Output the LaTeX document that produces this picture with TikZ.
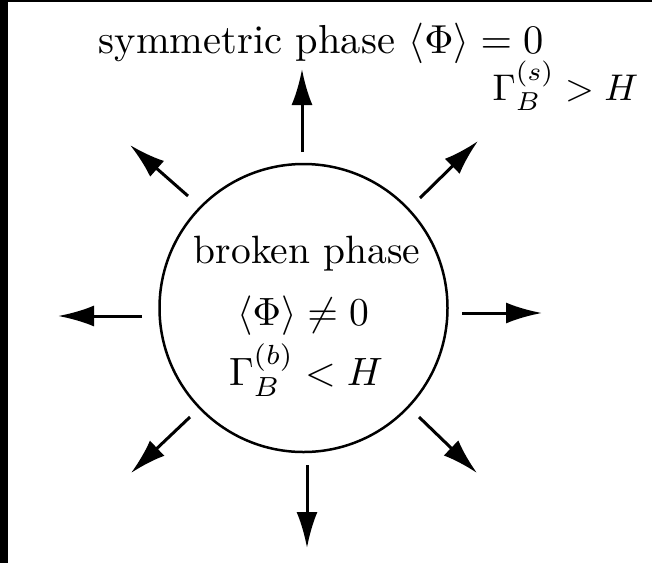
\documentclass[tikz,border=0pt]{standalone}
\usepackage{amsmath}
\usetikzlibrary{arrows.meta}
\begin{document}
\begin{tikzpicture}[x=1pt,y=-1pt,
  arr/.style={line width=3pt,-{Latex[length=36pt,width=21pt]}},
  lbl/.style={inner sep=0pt,scale=3.95}]
\useasboundingbox (0,0) rectangle (652,563);
\fill[white] (0,0) rectangle (652,563);
\fill[black] (0,0) rectangle (8,563);
\fill[black] (0,0) rectangle (652,1.5);
\node[draw, circle, line width=2.5pt, minimum size=288pt, inner sep=0pt] (c) at (303.5,308) {};
\node[lbl, anchor=base] (b1) at (307,263) {broken phase};
\node[lbl, anchor=base] (b2) at (303,325) {$\langle\Phi\rangle \neq 0$};
\node[lbl, anchor=base] (b3) at (306,385) {$\Gamma_B^{(b)} < H$};
\node[lbl, scale=1.025, anchor=base west] (sym) at (98,53) {symmetric phase $\langle\Phi\rangle = 0$};
\node[lbl, scale=0.94, anchor=base east] (gs) at (639,100) {$\Gamma_B^{(s)} > H$};
\coordinate (tN) at (302,152);   \coordinate (hN) at (302,69);
\coordinate (tNW) at (188,196);  \coordinate (hNW) at (130,145);
\coordinate (tNE) at (420,198);  \coordinate (hNE) at (478,141);
\coordinate (tW) at (142,316);   \coordinate (hW) at (58,316);
\coordinate (tE) at (462,313);   \coordinate (hE) at (542,313);
\coordinate (tSW) at (190,417);  \coordinate (hSW) at (131,473);
\coordinate (tSE) at (419,417);  \coordinate (hSE) at (477,473);
\coordinate (tS) at (307,465);   \coordinate (hS) at (307,548);
\draw[arr] (tN) -- (hN);
\draw[arr] (tNW) -- (hNW);
\draw[arr] (tNE) -- (hNE);
\draw[arr] (tW) -- (hW);
\draw[arr] (tE) -- (hE);
\draw[arr] (tSW) -- (hSW);
\draw[arr] (tSE) -- (hSE);
\draw[arr] (tS) -- (hS);
\end{tikzpicture}
\end{document}
